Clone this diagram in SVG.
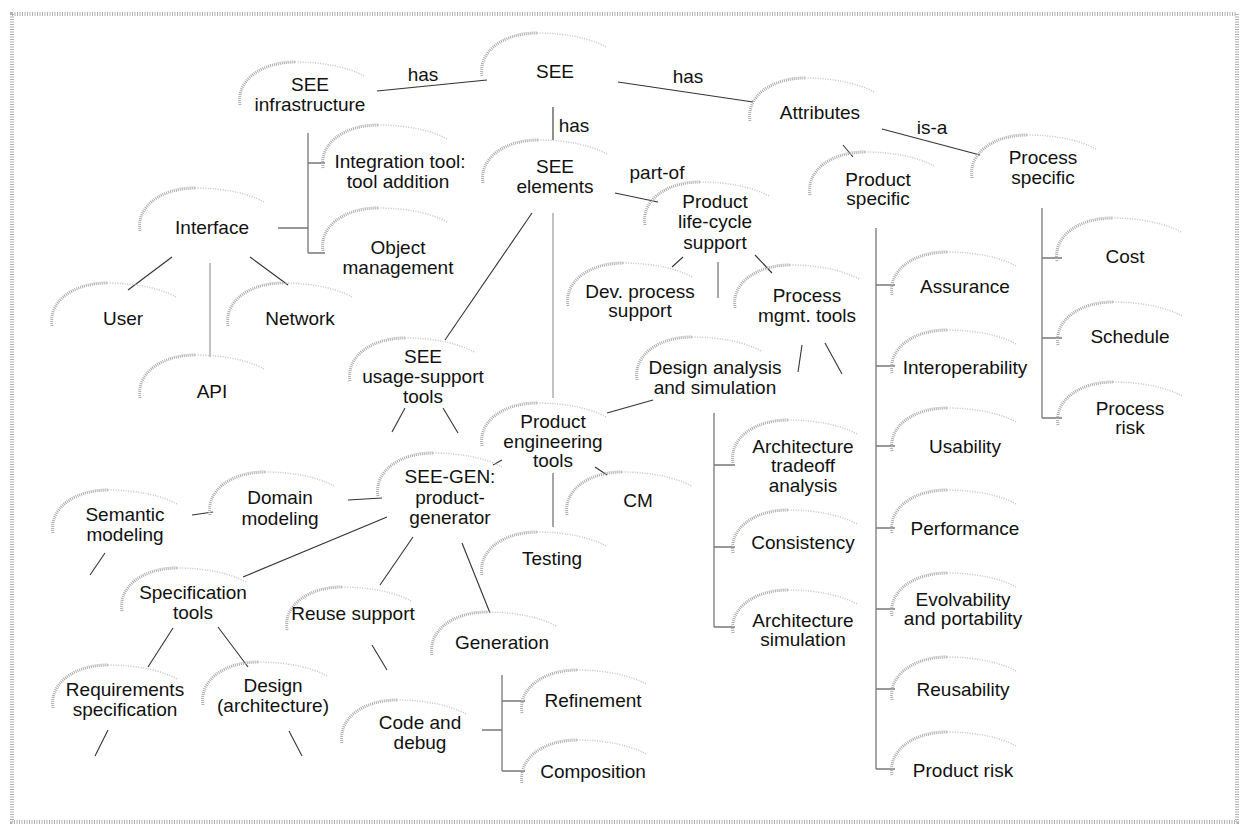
<svg xmlns="http://www.w3.org/2000/svg" xmlns:xlink="http://www.w3.org/1999/xlink" width="1243" height="826" viewBox="0 0 1243 826">
  <style>
    .lbl { font-family: "Liberation Sans", Arial, sans-serif; font-size: 19px; fill: #111; text-anchor: middle; }
    .rel { font-family: "Liberation Sans", Arial, sans-serif; font-size: 19px; fill: #111; text-anchor: middle; }
    .ln { stroke: #333; stroke-width: 1.1; fill: none; }
    .tree { stroke: #777; stroke-width: 1.3; fill: none; }
    .faint { stroke: #999; stroke-width: 1.2; fill: none; }
    .arcL { fill: none; stroke: #aaa; stroke-width: 3; stroke-dasharray: 1 1; }
    .arcR { fill: none; stroke: #c4c4c4; stroke-width: 1.5; stroke-dasharray: 1 1.5; }
    .frame { fill: none; stroke: #b0b0b0; stroke-width: 4; stroke-dasharray: 1 1.5; }
  </style>
  <defs>
    <!-- stippled cloud edge drawn over the upper left of each label -->
    <g id="cloud">
      <path class="arcL" d="M0,43 C-4,18 22,0 55,0"/>
      <path class="arcR" d="M55,0 C85,0 110,6 124,14"/>
    </g>
  </defs>

  <rect width="1243" height="826" fill="#fff"/>
  <rect class="frame" x="12" y="14" width="1225" height="808"/>

  <g id="connectors">
    <line class="ln" x1="377" y1="91" x2="487" y2="80"/>
    <line class="ln" x1="618" y1="82" x2="753" y2="102"/>
    <line class="ln" x1="553" y1="107" x2="553" y2="140"/>
    <line class="ln" x1="615" y1="193" x2="658" y2="202"/>
    <line class="ln" x1="532" y1="213" x2="445" y2="340"/>
    <line class="faint" x1="553" y1="213" x2="553" y2="398"/>
    <line class="ln" x1="882" y1="129" x2="980" y2="155"/>
    <line class="ln" x1="843" y1="145" x2="853" y2="157"/>
    <line class="ln" x1="683" y1="257" x2="672" y2="267"/>
    <line class="tree" x1="718" y1="262" x2="718" y2="298"/>
    <line class="ln" x1="755" y1="255" x2="772" y2="273"/>
    <line class="ln" x1="802" y1="345" x2="798" y2="372"/>
    <line class="ln" x1="825" y1="343" x2="842" y2="374"/>
    <line class="ln" x1="607" y1="413" x2="653" y2="400"/>
    <line class="ln" x1="595" y1="467" x2="607" y2="475"/>
    <line class="tree" x1="553" y1="473" x2="553" y2="527"/>
    <line class="ln" x1="493" y1="465" x2="502" y2="460"/>
    <line class="ln" x1="405" y1="408" x2="392" y2="432"/>
    <line class="ln" x1="443" y1="408" x2="458" y2="433"/>
    <line class="ln" x1="348" y1="500" x2="382" y2="498"/>
    <line class="ln" x1="192" y1="515" x2="213" y2="512"/>
    <line class="ln" x1="105" y1="553" x2="90" y2="575"/>
    <line class="ln" x1="387" y1="517" x2="243" y2="577"/>
    <line class="ln" x1="413" y1="537" x2="380" y2="585"/>
    <line class="ln" x1="462" y1="543" x2="490" y2="613"/>
    <line class="ln" x1="173" y1="628" x2="148" y2="667"/>
    <line class="ln" x1="218" y1="627" x2="248" y2="667"/>
    <line class="ln" x1="108" y1="730" x2="95" y2="756"/>
    <line class="ln" x1="289" y1="731" x2="302" y2="756"/>
    <line class="ln" x1="372" y1="645" x2="387" y2="670"/>
    <line class="ln" x1="172" y1="257" x2="128" y2="290"/>
    <line class="faint" x1="210" y1="263" x2="210" y2="357"/>
    <line class="ln" x1="250" y1="257" x2="288" y2="285"/>
    <!-- bracket trees -->
    <path class="tree" d="M278,228 H308 M308,133 V253 M308,163 H325 M308,253 H325"/>
    <path class="tree" d="M482,730 H502 M502,675 V771 M502,701 H525 M502,771 H525"/>
    <path class="tree" d="M714,413 V627 M714,465 H735 M714,547 H735 M714,627 H735"/>
    <path class="tree" d="M876,228 V769 M876,285 H895 M876,366 H895 M876,446 H895 M876,528 H895 M876,609 H895 M876,689 H895 M876,769 H895"/>
    <path class="tree" d="M1042,208 V418 M1042,258 H1062 M1042,338 H1062 M1042,418 H1062"/>
    <!-- relation labels -->
    <text class="rel" x="423" y="81">has</text>
    <text class="rel" x="688" y="83">has</text>
    <text class="rel" x="574" y="132">has</text>
    <text class="rel" x="657" y="179">part-of</text>
    <text class="rel" x="932" y="134">is-a</text>
  </g>

  <g id="see-infrastructure"><use xlink:href="#cloud" x="240" y="62"/><text class="lbl" x="310" y="91">SEE</text><text class="lbl" x="310" y="111">infrastructure</text></g>
  <g id="see"><use xlink:href="#cloud" x="482" y="33"/><text class="lbl" x="555" y="78">SEE</text></g>
  <g id="see-elements"><use xlink:href="#cloud" x="483" y="140"/><text class="lbl" x="555" y="173">SEE</text><text class="lbl" x="555" y="193">elements</text></g>
  <g id="attributes"><use xlink:href="#cloud" x="750" y="78"/><text class="lbl" x="820" y="119">Attributes</text></g>
  <g id="integration-tool"><use xlink:href="#cloud" x="323" y="125"/><text class="lbl" x="400" y="168">Integration tool:</text><text class="lbl" x="398" y="188">tool addition</text></g>
  <g id="object-management"><use xlink:href="#cloud" x="323" y="208"/><text class="lbl" x="398" y="254">Object</text><text class="lbl" x="398" y="274">management</text></g>
  <g id="interface"><use xlink:href="#cloud" x="140" y="188"/><text class="lbl" x="212" y="234">Interface</text></g>
  <g id="user"><use xlink:href="#cloud" x="52" y="283"/><text class="lbl" x="123" y="325">User</text></g>
  <g id="network"><use xlink:href="#cloud" x="228" y="283"/><text class="lbl" x="300" y="325">Network</text></g>
  <g id="api"><use xlink:href="#cloud" x="140" y="355"/><text class="lbl" x="212" y="398">API</text></g>
  <g id="see-usage-support-tools"><use xlink:href="#cloud" x="350" y="338"/><text class="lbl" x="423" y="363">SEE</text><text class="lbl" x="423" y="383">usage-support</text><text class="lbl" x="423" y="403">tools</text></g>
  <g id="product-life-cycle-support"><use xlink:href="#cloud" x="645" y="182"/><text class="lbl" x="715" y="208">Product</text><text class="lbl" x="715" y="228">life-cycle</text><text class="lbl" x="715" y="249">support</text></g>
  <g id="product-specific"><use xlink:href="#cloud" x="810" y="152"/><text class="lbl" x="878" y="186">Product</text><text class="lbl" x="878" y="205">specific</text></g>
  <g id="process-specific"><use xlink:href="#cloud" x="972" y="135"/><text class="lbl" x="1043" y="164">Process</text><text class="lbl" x="1043" y="184">specific</text></g>
  <g id="dev-process-support"><use xlink:href="#cloud" x="568" y="263"/><text class="lbl" x="640" y="298">Dev. process</text><text class="lbl" x="640" y="317">support</text></g>
  <g id="process-mgmt-tools"><use xlink:href="#cloud" x="735" y="265"/><text class="lbl" x="807" y="302">Process</text><text class="lbl" x="807" y="322">mgmt. tools</text></g>
  <g id="design-analysis"><use xlink:href="#cloud" x="637" y="337"/><text class="lbl" x="715" y="374">Design analysis</text><text class="lbl" x="715" y="394">and simulation</text></g>
  <g id="product-engineering-tools"><use xlink:href="#cloud" x="482" y="403"/><text class="lbl" x="553" y="428">Product</text><text class="lbl" x="553" y="448">engineering</text><text class="lbl" x="553" y="467">tools</text></g>
  <g id="see-gen"><use xlink:href="#cloud" x="378" y="453"/><text class="lbl" x="450" y="483">SEE-GEN:</text><text class="lbl" x="450" y="504">product-</text><text class="lbl" x="450" y="524">generator</text></g>
  <g id="domain-modeling"><use xlink:href="#cloud" x="210" y="472"/><text class="lbl" x="280" y="504">Domain</text><text class="lbl" x="280" y="525">modeling</text></g>
  <g id="semantic-modeling"><use xlink:href="#cloud" x="53" y="490"/><text class="lbl" x="125" y="521">Semantic</text><text class="lbl" x="125" y="541">modeling</text></g>
  <g id="cm"><use xlink:href="#cloud" x="567" y="472"/><text class="lbl" x="638" y="507">CM</text></g>
  <g id="testing"><use xlink:href="#cloud" x="482" y="532"/><text class="lbl" x="552" y="565">Testing</text></g>
  <g id="specification-tools"><use xlink:href="#cloud" x="122" y="568"/><text class="lbl" x="193" y="599">Specification</text><text class="lbl" x="193" y="619">tools</text></g>
  <g id="reuse-support"><use xlink:href="#cloud" x="287" y="587"/><text class="lbl" x="353" y="620">Reuse support</text></g>
  <g id="generation"><use xlink:href="#cloud" x="432" y="612"/><text class="lbl" x="502" y="649">Generation</text></g>
  <g id="requirements-specification"><use xlink:href="#cloud" x="53" y="665"/><text class="lbl" x="125" y="696">Requirements</text><text class="lbl" x="125" y="716">specification</text></g>
  <g id="design-architecture"><use xlink:href="#cloud" x="203" y="662"/><text class="lbl" x="273" y="692">Design</text><text class="lbl" x="273" y="712">(architecture)</text></g>
  <g id="code-and-debug"><use xlink:href="#cloud" x="342" y="700"/><text class="lbl" x="420" y="729">Code and</text><text class="lbl" x="420" y="749">debug</text></g>
  <g id="refinement"><use xlink:href="#cloud" x="522" y="670"/><text class="lbl" x="593" y="707">Refinement</text></g>
  <g id="composition"><use xlink:href="#cloud" x="522" y="740"/><text class="lbl" x="593" y="778">Composition</text></g>
  <g id="architecture-tradeoff"><use xlink:href="#cloud" x="733" y="420"/><text class="lbl" x="803" y="453">Architecture</text><text class="lbl" x="803" y="472">tradeoff</text><text class="lbl" x="803" y="492">analysis</text></g>
  <g id="consistency"><use xlink:href="#cloud" x="733" y="510"/><text class="lbl" x="803" y="549">Consistency</text></g>
  <g id="architecture-simulation"><use xlink:href="#cloud" x="733" y="590"/><text class="lbl" x="803" y="627">Architecture</text><text class="lbl" x="803" y="646">simulation</text></g>
  <g id="assurance"><use xlink:href="#cloud" x="892" y="252"/><text class="lbl" x="965" y="293">Assurance</text></g>
  <g id="interoperability"><use xlink:href="#cloud" x="892" y="330"/><text class="lbl" x="965" y="374">Interoperability</text></g>
  <g id="usability"><use xlink:href="#cloud" x="892" y="408"/><text class="lbl" x="965" y="453">Usability</text></g>
  <g id="performance"><use xlink:href="#cloud" x="892" y="490"/><text class="lbl" x="965" y="535">Performance</text></g>
  <g id="evolvability"><use xlink:href="#cloud" x="892" y="573"/><text class="lbl" x="963" y="606">Evolvability</text><text class="lbl" x="963" y="625">and portability</text></g>
  <g id="reusability"><use xlink:href="#cloud" x="892" y="657"/><text class="lbl" x="963" y="696">Reusability</text></g>
  <g id="product-risk"><use xlink:href="#cloud" x="892" y="732"/><text class="lbl" x="963" y="777">Product risk</text></g>
  <g id="cost"><use xlink:href="#cloud" x="1057" y="218"/><text class="lbl" x="1125" y="263">Cost</text></g>
  <g id="schedule"><use xlink:href="#cloud" x="1058" y="302"/><text class="lbl" x="1130" y="343">Schedule</text></g>
  <g id="process-risk"><use xlink:href="#cloud" x="1058" y="382"/><text class="lbl" x="1130" y="415">Process</text><text class="lbl" x="1130" y="434">risk</text></g>
</svg>
